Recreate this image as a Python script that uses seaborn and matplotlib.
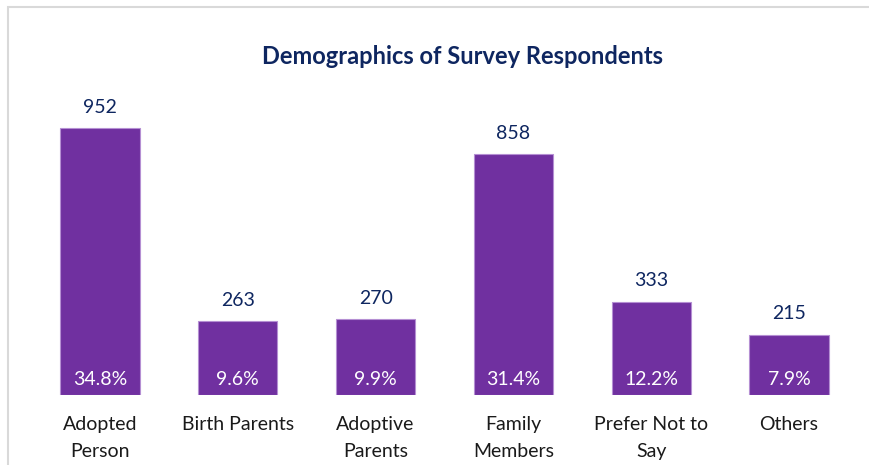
import matplotlib
matplotlib.use("Agg")
import matplotlib.pyplot as plt
from matplotlib.patches import Rectangle
import seaborn as sns
import pandas as pd

categories = ["Adopted\nPerson", "Birth Parents", "Adoptive\nParents",
              "Family\nMembers", "Prefer Not to\nSay", "Others"]
counts = [952, 263, 270, 858, 333, 215]
shares = ["34.8%", "9.6%", "9.9%", "31.4%", "12.2%", "7.9%"]

BAR = "#7030A0"
NAVY = "#0E2660"

sns.set_theme(style="white")
plt.rcParams["font.family"] = ["Lato", "DejaVu Sans"]

df = pd.DataFrame({"group": categories, "n": counts})

fig = plt.figure(figsize=(8.7, 4.65), dpi=100)
fig.patch.set_facecolor("white")
ax = fig.add_axes([31 / 870, 1 - 395 / 465, (858 - 31) / 870, (395 - 90) / 465])

sns.barplot(data=df, x="group", y="n", color=BAR, saturation=1, width=0.575,
            edgecolor="#B58FD3", linewidth=0.8, ax=ax)

ax.set_ylim(0, 1088)
ax.set_xlim(-0.5, len(categories) - 0.5)
ax.set_xlabel("")
ax.set_ylabel("")
ax.set_yticks([])
for s in ax.spines.values():
    s.set_visible(False)
ax.tick_params(axis="x", length=0, pad=15, labelsize=14, labelcolor="#1A1A1A")
for lbl in ax.get_xticklabels():
    lbl.set_linespacing(1.7)
ax.set_facecolor("white")

for i, (v, p) in enumerate(zip(counts, shares)):
    ax.annotate(str(v), (i, v), xytext=(0, 9), textcoords="offset points",
                ha="center", va="bottom", fontsize=14, color=NAVY)
    ax.annotate(p, (i, 0), xytext=(0, 11), textcoords="offset points",
                ha="center", va="center", fontsize=14, color="white")

fig.text(463 / 870, 1 - 56 / 465, "Demographics of Survey Respondents",
         ha="center", va="center", fontsize=17, fontweight="bold", color=NAVY)

# light frame along top and left edges
fig.add_artist(Rectangle((8 / 870, -0.1), 1.2, 1.1 - 7 / 465, fill=False,
                         edgecolor="#D9D9D9", linewidth=1.5,
                         transform=fig.transFigure))

fig.savefig("out.png", dpi=100, facecolor="white")
